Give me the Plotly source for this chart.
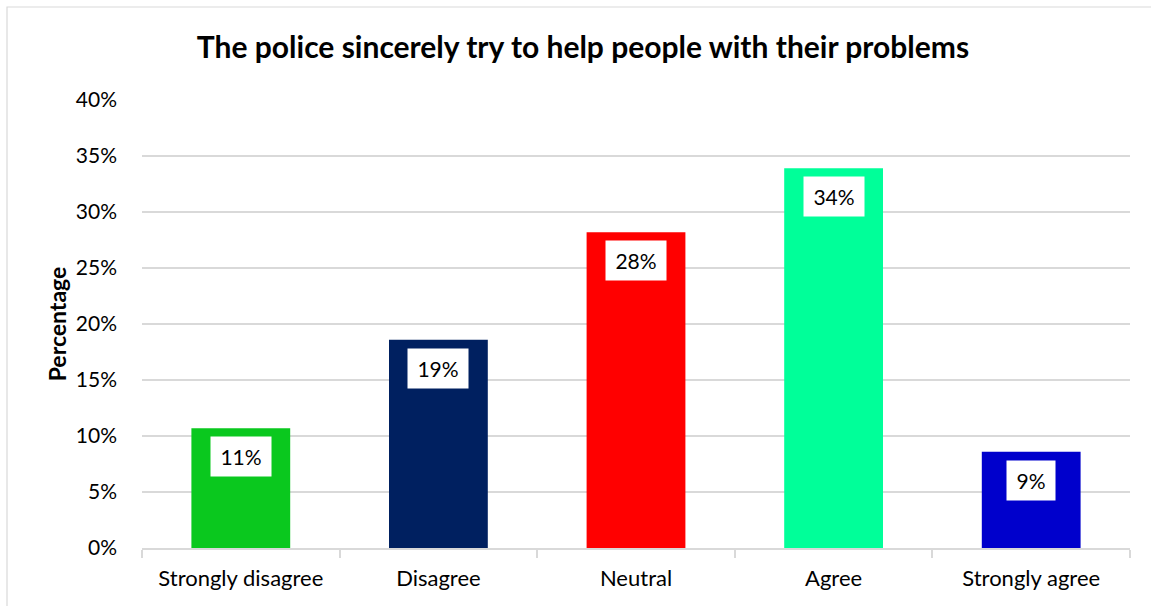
import plotly.graph_objects as go

# Survey responses: "The police sincerely try to help people with their problems"
categories = ["Strongly disagree", "Disagree", "Neutral", "Agree", "Strongly agree"]
shares = [0.107, 0.186, 0.282, 0.339, 0.086]
bar_colors = ["#0ac81e", "#002060", "#ff0000", "#00ff99", "#0000cc"]
y_ticks = [0, 0.05, 0.10, 0.15, 0.20, 0.25, 0.30, 0.35, 0.40]

FONT = "Lato, 'Open Sans', sans-serif"

W, H = 1151, 606
ML, MR, MT, MB = 142, 21, 100, 58
PW, PH = W - ML - MR, H - MT - MB

fig = go.Figure()
fig.add_trace(go.Bar(
    x=categories,
    y=shares,
    marker=dict(color=bar_colors, line=dict(width=0)),
    width=0.5,
    hoverinfo="x+y",
))

# White value boxes just inside the top of each bar
for cat, val in zip(categories, shares):
    label = f"{round(val * 100)}%"
    fig.add_annotation(
        x=cat, y=val, xref="x", yref="y",
        text=label, showarrow=False,
        yanchor="top", yshift=-8,
        bgcolor="white",
        width=12 * len(label) + 22, height=37,
        font=dict(family=FONT, size=21, color="#000000"),
    )

# Outer chart border
def px_x(p):
    return (p - ML) / PW

def px_y(p):
    return (H - MB - p) / PH

fig.add_shape(
    type="rect", xref="paper", yref="paper",
    x0=px_x(7), x1=px_x(1170), y0=px_y(7), y1=px_y(640),
    line=dict(color="#d9d9d9", width=1.2), fillcolor="rgba(0,0,0,0)",
    layer="below",
)

fig.update_layout(
    width=W, height=H,
    margin=dict(l=ML, r=MR, t=MT, b=MB),
    paper_bgcolor="white", plot_bgcolor="white",
    showlegend=False,
    title=dict(
        text="<b>The police sincerely try to help people with their problems</b>",
        x=(196 + 970) / 2 / W, xanchor="center",
        y=1 - 47 / H, yanchor="middle",
        font=dict(family=FONT, size=30, color="#000000"),
    ),
    font=dict(family=FONT, color="#000000"),
    bargap=0.5,
)

fig.update_xaxes(
    showgrid=False,
    showline=True, linecolor="#d9d9d9", linewidth=1.5,
    ticks="outside", ticklen=8, tickcolor="#d9d9d9", tickwidth=1.5,
    tickson="boundaries",
    ticklabelstandoff=10,
    tickfont=dict(family=FONT, size=22, color="#000000"),
    fixedrange=True,
)

fig.update_yaxes(
    range=[0, 0.40],
    tickvals=y_ticks,
    tickformat=".0%",
    showgrid=True, gridcolor="#d9d9d9", gridwidth=1.5,
    zeroline=False,
    showline=False,
    ticks="", ticklabelstandoff=24,
    tickfont=dict(family=FONT, size=21, color="#000000"),
    title=dict(text="<b>Percentage</b>", standoff=2,
               font=dict(family=FONT, size=23, color="#000000")),
    fixedrange=True,
)

fig.write_html("out.html")
